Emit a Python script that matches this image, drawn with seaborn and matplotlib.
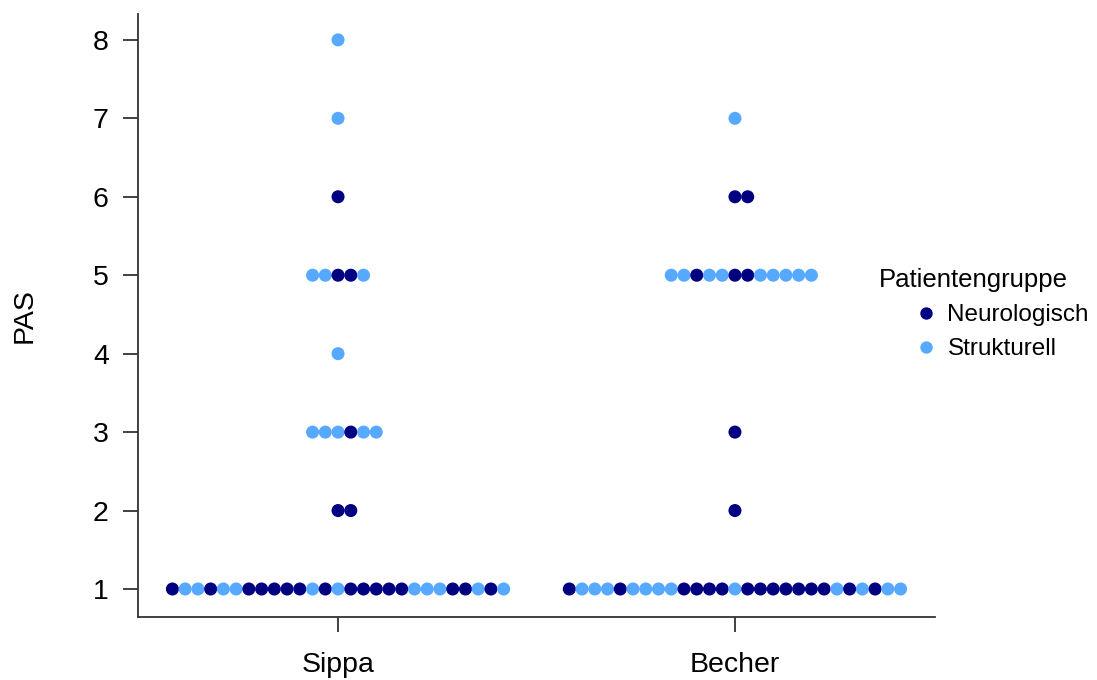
import pandas as pd
import matplotlib
matplotlib.use("Agg")
import matplotlib.pyplot as plt
import seaborn as sns

# PAS score per patient, one string per score level, read left to right
# N = Neurologisch, S = Strukturell
sippa_rows = {
    1: "NSSNSSNNNNNSNSNNNNNSSSNNSNS",
    2: "NN",
    3: "SSSNSS",
    4: "S",
    5: "SSNNS",
    6: "N",
    7: "S",
    8: "S",
}
becher_rows = {
    1: "NSSSNSSSSNNNNSNNNNNNNSNSNSS",
    2: "N",
    3: "N",
    5: "SSNSSNNSSSSS",
    6: "NN",
    7: "S",
}
sites = ["Sippa", "Becher"]
group_names = {"N": "Neurologisch", "S": "Strukturell"}
colors = {"Neurologisch": "#000080", "Strukturell": "#56A9FF"}

step = 0.0321  # horizontal spacing between stacked dots

records = []
for k, rows in enumerate([sippa_rows, becher_rows]):
    for pas, codes in rows.items():
        n = len(codes)
        for i, c in enumerate(codes):
            records.append({
                "x": k + (i - (n - 1) // 2) * step,
                "PAS": pas,
                "Patientengruppe": group_names[c],
            })
df = pd.DataFrame(records)

sns.set_style("ticks")
plt.rcParams["font.family"] = ["Liberation Sans", "DejaVu Sans"]
plt.rcParams["text.color"] = "black"
plt.rcParams["axes.labelcolor"] = "black"

fig = plt.figure(figsize=(10.97, 6.8), dpi=100)
ax = fig.add_axes([138 / 1097, 1 - 617 / 680, (935 - 138) / 1097, (617 - 14) / 680])

sns.scatterplot(data=df, x="x", y="PAS", hue="Patientengruppe",
                hue_order=["Neurologisch", "Strukturell"], palette=colors,
                s=88, linewidth=0, ax=ax)

ax.set_xlim(-0.504, 1.504)
ax.set_ylim(0.643, 8.33)
ax.set_xticks([0, 1])
ax.set_xticklabels(sites)
ax.set_yticks(range(1, 9))
ax.set_xlabel("")
ax.set_ylabel("PAS", fontsize=20.5, labelpad=40)
ax.tick_params(axis="both", labelsize=20.5, length=11, width=1.3,
               color="#333333", labelcolor="black")
ax.tick_params(axis="y", pad=10)
ax.tick_params(axis="x", pad=14)
for side in ["left", "bottom"]:
    ax.spines[side].set_linewidth(1.3)
    ax.spines[side].set_color("#333333")
sns.despine(ax=ax)

leg = ax.legend(title="Patientengruppe", loc="upper left",
                bbox_to_anchor=(0.918, 0.595), frameon=False,
                fontsize=17.5, title_fontsize=18.5, markerscale=0.95,
                handlelength=3.8, handletextpad=-1.0, labelspacing=0.5,
                borderaxespad=0)
leg._legend_box.align = "left"

fig.savefig("out.png", dpi=100)
